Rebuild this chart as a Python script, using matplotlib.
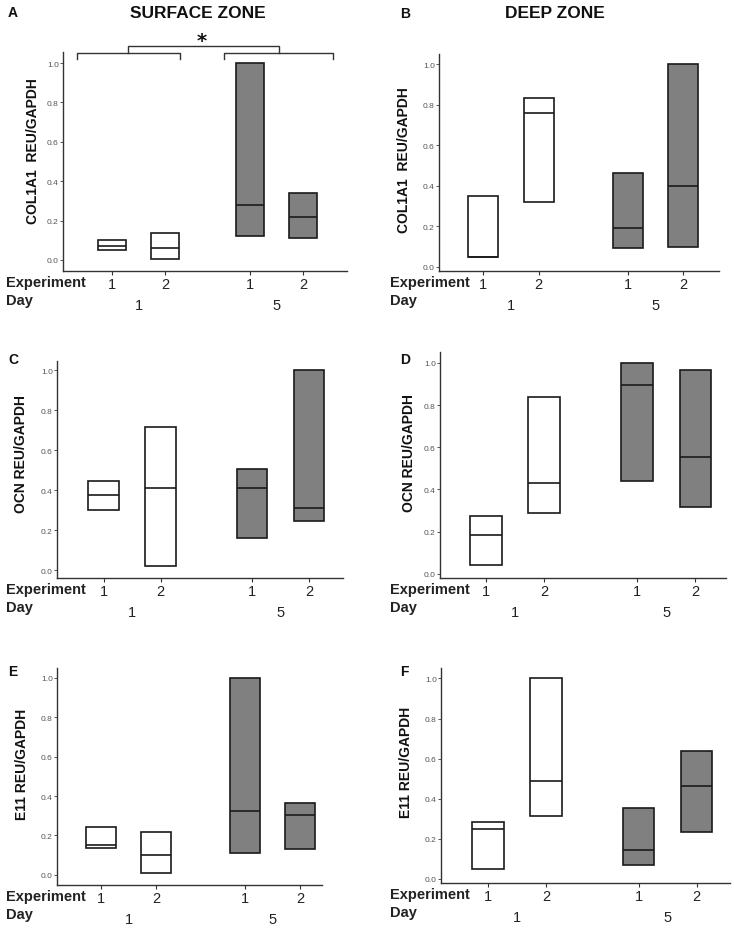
import matplotlib
matplotlib.use("Agg")
import matplotlib.pyplot as plt
from matplotlib import font_manager
import matplotlib.transforms as mtransforms

# ---------------- data ----------------
experiments = ["1", "2", "1", "2"]
days = ["1", "5"]
day_of_bar = [0, 0, 1, 1]          # 0 -> Day 1, 1 -> Day 5
y_ticks = [0.0, 0.2, 0.4, 0.6, 0.8, 1.0]

panel_letters = ["A", "B", "C", "D", "E", "F"]
ylabels = ["COL1A1  REU/GAPDH", "COL1A1  REU/GAPDH",
           "OCN REU/GAPDH", "OCN REU/GAPDH",
           "E11 REU/GAPDH", "E11 REU/GAPDH"]
column_titles = ["SURFACE ZONE", "DEEP ZONE"]

# min / median / max for each bar (Day1-Exp1, Day1-Exp2, Day5-Exp1, Day5-Exp2)
A_low = [0.052, 0.007, 0.123, 0.113]
A_med = [0.070, 0.062, 0.281, 0.220]
A_high = [0.103, 0.135, 1.000, 0.338]

B_low = [0.049, 0.323, 0.094, 0.099]
B_med = [0.049, 0.761, 0.191, 0.399]
B_high = [0.349, 0.832, 0.465, 1.000]

C_low = [0.301, 0.022, 0.162, 0.244]
C_med = [0.378, 0.410, 0.411, 0.309]
C_high = [0.448, 0.716, 0.508, 1.000]

D_low = [0.044, 0.286, 0.438, 0.318]
D_med = [0.186, 0.430, 0.894, 0.553]
D_high = [0.275, 0.840, 1.000, 0.967]

E_low = [0.136, 0.010, 0.112, 0.129]
E_med = [0.153, 0.102, 0.322, 0.303]
E_high = [0.241, 0.219, 1.000, 0.364]

F_low = [0.052, 0.314, 0.072, 0.236]
F_med = [0.248, 0.491, 0.145, 0.463]
F_high = [0.283, 1.000, 0.353, 0.636]

panels = [(A_low, A_med, A_high), (B_low, B_med, B_high),
          (C_low, C_med, C_high), (D_low, D_med, D_high),
          (E_low, E_med, E_high), (F_low, F_med, F_high)]

# ---------------- styling / layout ----------------
W, H = 734, 929
names = {f.name for f in font_manager.fontManager.ttflist}
NARROW = "Liberation Sans Narrow" if "Liberation Sans Narrow" in names else "Liberation Sans"
SANS = "Liberation Sans"

xpos = [1.0, 2.0, 3.6, 4.6]
bar_w = 0.54
day_colors = ["white", "#808080"]

# axes boxes in pixels: left, right, top, bottom ; xlim ; ylim
boxes = [
    (63, 347, 53, 272, (0.075, 5.43), (-0.056, 1.056)),
    (439, 719, 55, 272, (0.203, 5.247), (-0.020, 1.051)),
    (57, 343, 362, 579, (0.179, 5.197), (-0.040, 1.047)),
    (440, 726, 353, 579, (0.208, 5.129), (-0.020, 1.052)),
    (57, 322, 669, 886, (0.205, 4.99), (-0.051, 1.049)),
    (441, 730, 669, 884, (0.188, 5.177), (-0.020, 1.052)),
]
ylabel_xy = [(33, 151), (404, 160), (21, 454), (409, 453), (22, 764), (406, 762)]
letter_xy = [(13, 13), (405, 14), (13, 360), (405, 360), (13, 672), (404, 672)]
exp_x = [6, 390]


def fx(x):
    return x / W


def fy(y):
    return 1 - y / H


fig = plt.figure(figsize=(W / 100, H / 100), dpi=100)
fig.patch.set_facecolor("white")

axes = []
for i, (lo, med, hi) in enumerate(panels):
    l, r, t, b, xl, yl = boxes[i]
    ax = fig.add_axes([fx(l), fy(b), (r - l) / W, (b - t) / H])
    axes.append(ax)
    for j in range(4):
        c = day_colors[day_of_bar[j]]
        ax.bar(xpos[j], hi[j] - lo[j], bottom=lo[j], width=bar_w,
               color=c, edgecolor="#1a1a1a", linewidth=1.2, zorder=2)
        ax.plot([xpos[j] - bar_w / 2, xpos[j] + bar_w / 2], [med[j], med[j]],
                color="#1a1a1a", lw=1.2, zorder=3, solid_capstyle="butt")
    ax.set_xlim(*xl)
    ax.set_ylim(*yl)
    ax.set_yticks(y_ticks)
    ax.set_yticklabels([f"{v:.1f}" for v in y_ticks], fontsize=6,
                       color="#555555", family=NARROW)
    ax.set_xticks(xpos)
    ax.set_xticklabels(experiments, fontsize=10.5, color="#222222", family=SANS)
    ax.tick_params(axis="y", length=2, width=0.7, pad=1, colors="#555555")
    ax.tick_params(axis="x", length=3, width=0.8, pad=1, colors="#333333")
    for lab in ax.get_xticklabels():
        lab.set_color("#222222")
    for s in ["top", "right"]:
        ax.spines[s].set_visible(False)
    for s in ["left", "bottom"]:
        ax.spines[s].set_color("#333333")
        ax.spines[s].set_linewidth(1.0)

    # Experiment / Day rows
    col = i % 2
    fig.text(fx(exp_x[col]), fy(b + 11), "Experiment", fontsize=10.5,
             fontweight="bold", family=SANS, color="#222222", va="center", ha="left")
    fig.text(fx(exp_x[col]), fy(b + 29), "Day", fontsize=10.5,
             fontweight="bold", family=SANS, color="#222222", va="center", ha="left")
    trans = mtransforms.blended_transform_factory(ax.transData, fig.transFigure)
    for d in range(2):
        idx = [k for k in range(4) if day_of_bar[k] == d]
        cx = sum(xpos[k] for k in idx) / len(idx)
        ax.text(cx, fy(b + 34), days[d], transform=trans, fontsize=10.5,
                family=SANS, color="#222222", ha="center", va="center")

    fig.text(fx(ylabel_xy[i][0]), fy(ylabel_xy[i][1]), ylabels[i], rotation=90,
             fontsize=10, fontweight="bold", family=SANS, color="#111111",
             ha="center", va="center")
    fig.text(fx(letter_xy[i][0]), fy(letter_xy[i][1]), panel_letters[i],
             fontsize=10, fontweight="bold", family=SANS, color="#111111",
             ha="center", va="center")

# column titles
fig.text(fx(198), fy(14), column_titles[0], fontsize=12.5, fontweight="bold",
         family=SANS, color="#111111", ha="center", va="center")
fig.text(fx(555), fy(13), column_titles[1], fontsize=12.5, fontweight="bold",
         family=SANS, color="#111111", ha="center", va="center")

# significance brackets on panel A
axA = axes[0]
kw = dict(color="#333333", lw=1.0, clip_on=False)
lb = (xpos[0] - 0.66, xpos[1] + 0.28)
rb = (xpos[2] - 0.49, xpos[3] + 0.57)
yb, ytip, ytop = 1.050, 1.020, 1.088
for a, c in (lb, rb):
    axA.plot([a, a, c, c], [ytip, yb, yb, ytip], **kw)
lc = (lb[0] + lb[1]) / 2
rc = (rb[0] + rb[1]) / 2
axA.plot([lc, lc, rc, rc], [yb, ytop, ytop, yb], **kw)
axA.text((lc + rc) / 2 - 0.03, 1.115, "*", fontsize=14, fontweight="bold",
         ha="center", va="center", color="#111111", clip_on=False)

fig.savefig("out.png", dpi=100, facecolor="white")
